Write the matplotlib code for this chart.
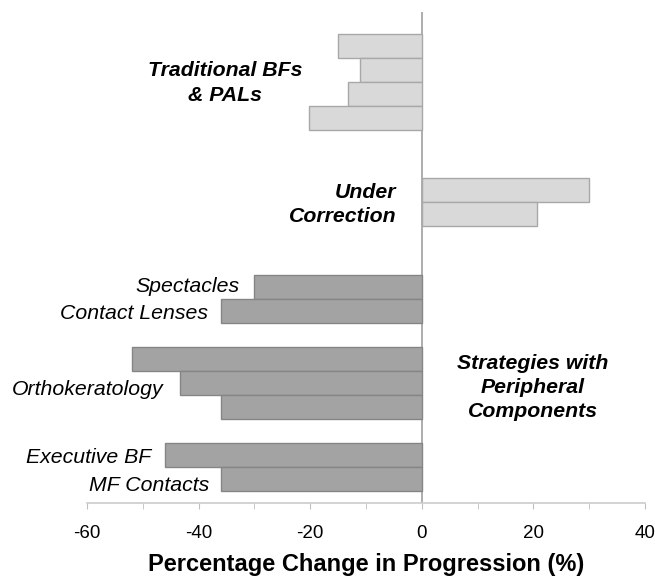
import numpy as np
import matplotlib.pyplot as plt

plt.rcParams['font.family'] = ['Liberation Sans', 'DejaVu Sans']
plt.rcParams['axes.unicode_minus'] = False

# Bar values, top to bottom, grouped
trad_vals = [-15, -11, -13.3, -20.2]
under_vals = [30, 20.7]
spec_cl_vals = [-30, -36]
ortho_vals = [-52, -43.4, -36]
exec_mf_vals = [-46, -36]

groups = [trad_vals, under_vals, spec_cl_vals, ortho_vals, exec_mf_vals]
gaps = [2, 2, 1, 1]  # empty slots between groups
light = [True, True, False, False, False]

xticks = [-60, -40, -20, 0, 20, 40]

fig = plt.figure(figsize=(6.55, 5.77), dpi=100)
ax = fig.add_axes([0.1328, 0.128, 0.8519, 0.851])

pos = 0
for i, vals in enumerate(groups):
    y = pos + np.arange(len(vals))
    if light[i]:
        ax.barh(y, vals, height=1.0, color='#d9d9d9', edgecolor='#a8a8a8', linewidth=1.0)
    else:
        ax.barh(y, vals, height=1.0, color='#a3a3a3', edgecolor='#858585', linewidth=1.0)
    pos += len(vals)
    if i < len(gaps):
        pos += gaps[i]

ax.axvline(0, color='#a0a0a0', linewidth=1.2, zorder=0)

ax.set_xlim(-60, 40)
ax.set_ylim(19.0, -1.41)
ax.set_xticks(xticks)
ax.set_xticks(np.arange(-60, 41, 10), minor=True)
ax.tick_params(axis='x', which='both', direction='out', length=4, color='#c0c0c0',
               labelsize=13.5, pad=12)
ax.set_yticks([])
for s in ['top', 'right', 'left']:
    ax.spines[s].set_visible(False)
ax.spines['bottom'].set_color('#cccccc')
ax.spines['bottom'].set_linewidth(1.2)
ax.set_xlabel('Percentage Change in Progression (%)', fontsize=17, fontweight='bold', labelpad=8)

# Group annotations
bold = dict(fontsize=15.3, fontweight='bold', style='italic')
ax.text(-35.2, 1.54, 'Traditional BFs\n& PALs', ha='center', va='center',
        linespacing=1.35, **bold)
ax.text(-4.5, 6.6, 'Under\nCorrection', ha='right', va='center', multialignment='right',
        linespacing=1.35, **bold)
ax.text(19.9, 14.2, 'Strategies with\nPeripheral\nComponents', ha='center', va='center',
        linespacing=1.35, **bold)

ital = dict(fontsize=15.3, style='italic', ha='right', va='center')
ax.text(-32.7, 10, 'Spectacles', **ital)
ax.text(-38.4, 11.1, 'Contact Lenses', **ital)
ax.text(-46.3, 14.26, 'Orthokeratology', **ital)
ax.text(-48.5, 17.1, 'Executive BF', **ital)
ax.text(-38.0, 18.25, 'MF Contacts', **ital)

fig.savefig('out.png', dpi=100)
